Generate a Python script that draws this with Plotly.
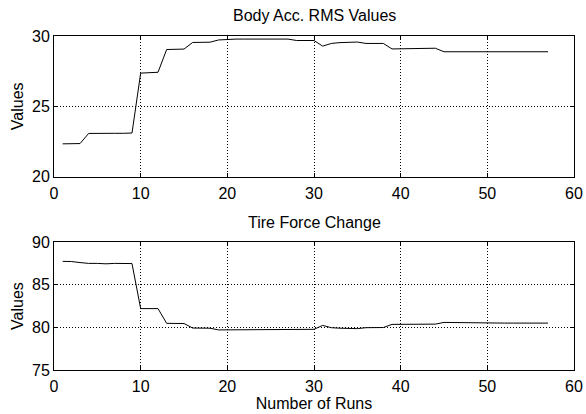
import plotly.graph_objects as go

runs = list(range(1, 58))
body_acc = [22.33, 22.33, 22.35, 23.07, 23.08, 23.12, 23.08, 23.08, 23.10, 27.36,
            27.38, 27.42, 29.04, 29.05, 29.07, 29.54, 29.54, 29.56, 29.72, 29.76,
            29.78, 29.78, 29.78, 29.78, 29.78, 29.78, 29.78, 29.68, 29.68, 29.68,
            29.28, 29.47, 29.53, 29.56, 29.57, 29.47, 29.47, 29.47, 29.08, 29.08,
            29.12, 29.08, 29.10, 29.13, 28.88, 28.88, 28.88, 28.88, 28.88, 28.92,
            28.88, 28.88, 28.88, 28.88, 28.88, 28.88, 28.88]
tire_force = [87.74, 87.72, 87.60, 87.50, 87.50, 87.45, 87.50, 87.50, 87.48, 82.20,
              82.20, 82.20, 80.47, 80.47, 80.45, 79.92, 79.92, 79.90, 79.70, 79.70,
              79.70, 79.70, 79.70, 79.70, 79.70, 79.70, 79.70, 79.72, 79.75, 79.77,
              80.23, 79.96, 79.90, 79.87, 79.85, 79.96, 79.96, 79.98, 80.35, 80.35,
              80.38, 80.38, 80.39, 80.38, 80.58, 80.56, 80.52, 80.50, 80.50, 80.50,
              80.50, 80.50, 80.50, 80.50, 80.50, 80.50, 80.50]

FONT = "Liberation Sans, Arial, sans-serif"
FS = 16

fig = go.Figure()
fig.add_trace(go.Scatter(x=runs, y=body_acc, mode="lines",
                         line=dict(color="black", width=1), xaxis="x", yaxis="y", showlegend=False))
fig.add_trace(go.Scatter(x=runs, y=tire_force, mode="lines",
                         line=dict(color="black", width=1), xaxis="x2", yaxis="y2", showlegend=False))

axis_common = dict(showline=True, linecolor="black", linewidth=1, mirror="ticks",
                   ticks="inside", ticklen=4, tickcolor="black",
                   showgrid=True, gridcolor="black", gridwidth=1, griddash="1px,2px",
                   zeroline=False, automargin=False,
                   tickfont=dict(family=FONT, size=FS, color="black"))

fig.update_layout(
    width=586, height=414,
    margin=dict(l=54, r=12, t=36, b=44),
    paper_bgcolor="white", plot_bgcolor="white",
    font=dict(family=FONT, size=FS, color="black"),
    xaxis=dict(domain=[0, 1], range=[0, 60], dtick=10, anchor="y",
               ticklabelstandoff=2, **axis_common),
    yaxis=dict(domain=[0.579, 1], range=[20, 30], dtick=5, anchor="x",
               title=dict(text="Values", font=dict(family=FONT, size=FS), standoff=4), **axis_common),
    xaxis2=dict(domain=[0, 1], range=[0, 60], dtick=10, anchor="y2", ticklabelstandoff=2,
                title=dict(text="Number of Runs", font=dict(family=FONT, size=FS), standoff=0), **axis_common),
    yaxis2=dict(domain=[0, 0.383], range=[75, 90], dtick=5, anchor="x2",
                title=dict(text="Values", font=dict(family=FONT, size=FS), standoff=4), **axis_common),
    annotations=[
        dict(text="Body Acc. RMS Values", x=0.5, y=1, xref="paper", yref="paper",
             xanchor="center", yanchor="bottom", yshift=10, showarrow=False,
             font=dict(family=FONT, size=FS)),
        dict(text="Tire Force Change", x=0.5, y=0.383, xref="paper", yref="paper",
             xanchor="center", yanchor="bottom", yshift=9, showarrow=False,
             font=dict(family=FONT, size=FS)),
    ],
)

fig.write_html("out.html")
